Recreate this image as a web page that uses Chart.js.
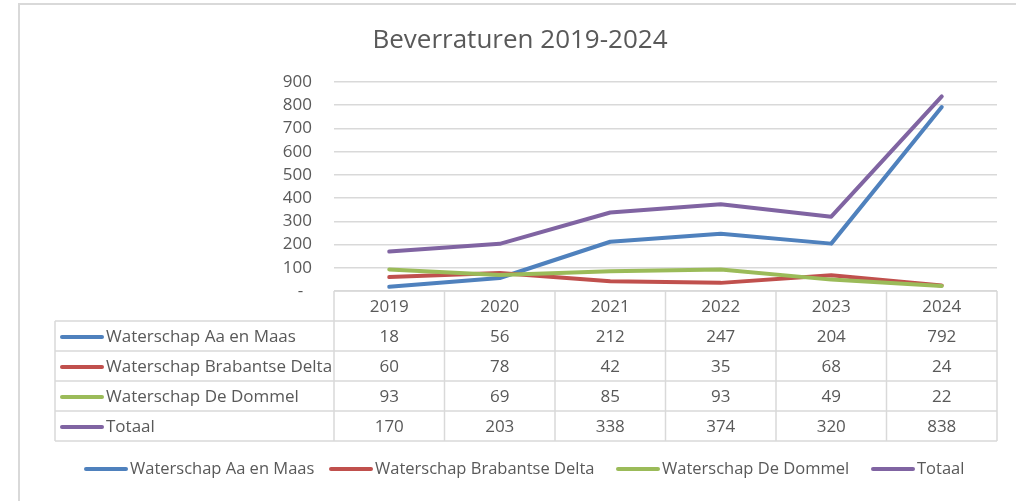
<!DOCTYPE html>
<html>
<head>
<meta charset="utf-8">
<script src="https://cdn.jsdelivr.net/npm/chart.js@4/dist/chart.umd.min.js"></script>
<style>
html,body{margin:0;padding:0;background:#fff;}
canvas{display:block;}
</style>
</head>
<body>
<canvas id="c" width="1016" height="501"></canvas>
<script>
const title = "Beverraturen 2019-2024";
const years = ["2019", "2020", "2021", "2022", "2023", "2024"];
const seriesNames = ["Waterschap Aa en Maas", "Waterschap Brabantse Delta", "Waterschap De Dommel", "Totaal"];
const aaEnMaas = [18, 56, 212, 247, 204, 792];
const brabantseDelta = [60, 78, 42, 35, 68, 24];
const deDommel = [93, 69, 85, 93, 49, 22];
const totaal = [170, 203, 338, 374, 320, 838];
const yTicks = [0, 100, 200, 300, 400, 500, 600, 700, 800, 900];
const colors = ["#4F81BD", "#C0504D", "#9BBB59", "#8064A2"];
const seriesValues = [aaEnMaas, brabantseDelta, deDommel, totaal];

const FONT = "'Open Sans', sans-serif";
const TXT = "#595959";
const GRID = "#d9d9d9";

const tablePlugin = {
  id: 'excelTable',
  afterDraw(chart) {
    const ctx = chart.ctx;
    const xs = chart.scales.x;
    const ca = chart.chartArea;
    const colW = (ca.right - ca.left) / years.length;
    const top = ca.bottom;
    const rowH = 30;
    const leftX = 55;
    ctx.save();
    // frame
    ctx.strokeStyle = GRID;
    ctx.lineWidth = 2;
    ctx.beginPath();
    ctx.moveTo(19, 501); ctx.lineTo(19, 4); ctx.lineTo(1016, 4);
    ctx.stroke();
    // title
    ctx.fillStyle = TXT;
    ctx.font = "26px " + FONT;
    ctx.textAlign = "center";
    ctx.textBaseline = "middle";
    ctx.fillText(title, 520, 41);
    // table grid
    ctx.strokeStyle = GRID;
    ctx.lineWidth = 1.5;
    const nRows = seriesNames.length;
    const bottom = top + rowH * (nRows + 1);
    ctx.beginPath();
    ctx.moveTo(ca.left, top); ctx.lineTo(ca.right, top);
    for (let r = 1; r <= nRows + 1; r++) {
      const y = top + r * rowH;
      ctx.moveTo(leftX, y); ctx.lineTo(ca.right, y);
    }
    for (let i = 0; i <= years.length; i++) {
      const x = ca.left + i * colW;
      ctx.moveTo(x, top); ctx.lineTo(x, bottom);
    }
    ctx.moveTo(leftX, top + rowH); ctx.lineTo(leftX, bottom);
    ctx.stroke();
    // header
    ctx.font = "17px " + FONT;
    ctx.fillStyle = TXT;
    ctx.textAlign = "center";
    years.forEach((y, i) => {
      ctx.fillText(y, xs.getPixelForValue(i), top + rowH / 2 + 1);
    });
    // rows
    seriesNames.forEach((name, r) => {
      const cy = top + rowH * (r + 1) + rowH / 2 + 1;
      ctx.strokeStyle = colors[r];
      ctx.lineWidth = 4;
      ctx.lineCap = "round";
      ctx.beginPath();
      ctx.moveTo(62, cy); ctx.lineTo(102, cy);
      ctx.stroke();
      ctx.fillStyle = TXT;
      ctx.textAlign = "left";
      ctx.fillText(name, 106, cy);
      ctx.textAlign = "center";
      seriesValues[r].forEach((v, i) => {
        ctx.fillText(String(v), xs.getPixelForValue(i), cy);
      });
    });
    // legend
    ctx.font = "16.5px " + FONT;
    const legX = [86, 331, 618, 873];
    const ly = 469;
    seriesNames.forEach((name, r) => {
      ctx.strokeStyle = colors[r];
      ctx.lineWidth = 4;
      ctx.lineCap = "round";
      ctx.beginPath();
      ctx.moveTo(legX[r], ly); ctx.lineTo(legX[r] + 40, ly);
      ctx.stroke();
      ctx.fillStyle = TXT;
      ctx.textAlign = "left";
      ctx.fillText(name, legX[r] + 44, ly);
    });
    ctx.restore();
  }
};

new Chart(document.getElementById('c'), {
  type: 'line',
  data: {
    labels: years,
    datasets: seriesNames.map((n, i) => ({
      label: n,
      data: seriesValues[i],
      borderColor: colors[i],
      backgroundColor: colors[i],
      borderWidth: 4,
      borderCapStyle: 'round',
      borderJoinStyle: 'round',
      pointRadius: 0,
      tension: 0,
      order: 4 - i
    }))
  },
  options: {
    responsive: false,
    animation: false,
    devicePixelRatio: 1,
    layout: { padding: { left: 0, top: 82, right: 19, bottom: 210 } },
    plugins: { legend: { display: false }, title: { display: false }, tooltip: { enabled: false } },
    scales: {
      x: { type: 'category', offset: true, display: false },
      y: {
        min: 0, max: 900,
        afterBuildTicks(scale) { scale.ticks = yTicks.map(v => ({ value: v })); },
        afterFit(scale) { scale.width = 334; },
        border: { display: false },
        grid: { color: GRID, lineWidth: 1.5, drawTicks: false },
        ticks: {
          autoSkip: false,
          padding: 22,
          color: TXT,
          font: { family: "'Open Sans', sans-serif", size: 17 },
          callback: (v) => v === 0 ? "-  " : String(v)
        }
      }
    }
  },
  plugins: [tablePlugin]
});
</script>
</body>
</html>
